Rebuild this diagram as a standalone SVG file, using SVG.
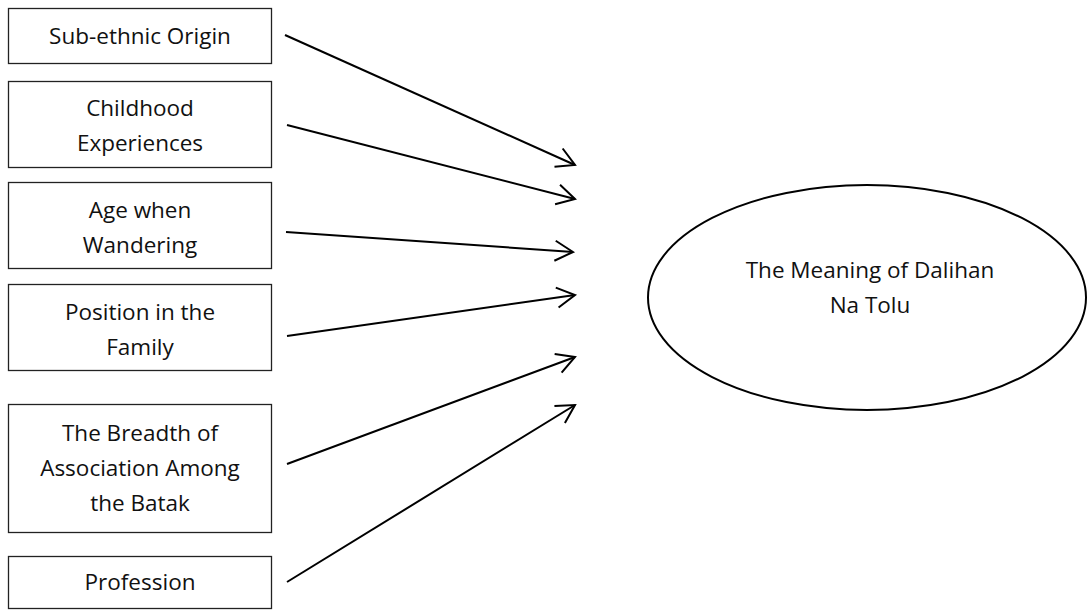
<svg xmlns="http://www.w3.org/2000/svg" width="1087" height="611" viewBox="0 0 1087 611">
<style>
.box{fill:#fff;stroke:#222;stroke-width:1.3}
.t{font-family:"Open Sans","Noto Sans",sans-serif;font-size:22.5px;fill:#111;text-anchor:middle}
.edge{stroke:#000;stroke-width:2;fill:none;marker-end:url(#arr)}
</style>
<defs>
<marker id="arr" markerUnits="userSpaceOnUse" viewBox="-22 -12 24 24" markerWidth="24" markerHeight="24" refX="0" refY="0" orient="auto">
<path d="M-18,-10 L0,0 L-18,10" fill="none" stroke="#000" stroke-width="2"/>
</marker>
</defs>
<rect width="1087" height="611" fill="#fff"/>
<g id="n1"><rect class="box" x="8.5" y="8.5" width="263" height="55"/><text class="t" x="140" y="44">Sub-ethnic Origin</text></g>
<g id="n2"><rect class="box" x="8.5" y="81.5" width="263" height="86"/><text class="t" x="140" y="116">Childhood</text><text class="t" x="140" y="151">Experiences</text></g>
<g id="n3"><rect class="box" x="8.5" y="182.5" width="263" height="86"/><text class="t" x="140" y="218">Age when</text><text class="t" x="140" y="253">Wandering</text></g>
<g id="n4"><rect class="box" x="8.5" y="284.5" width="263" height="86"/><text class="t" x="140" y="320">Position in the</text><text class="t" x="140" y="355">Family</text></g>
<g id="n5"><rect class="box" x="8.5" y="404.5" width="263" height="128"/><text class="t" x="140" y="441">The Breadth of</text><text class="t" x="140" y="476">Association Among</text><text class="t" x="140" y="511">the Batak</text></g>
<g id="n6"><rect class="box" x="8.5" y="556.5" width="263" height="52"/><text class="t" x="140" y="590">Profession</text></g>
<g id="target"><ellipse cx="867" cy="297.5" rx="219" ry="112.5" fill="#fff" stroke="#000" stroke-width="2"/><text class="t" x="870" y="278">The Meaning of Dalihan</text><text class="t" x="870" y="313">Na Tolu</text></g>
<g id="connectors">
<line class="edge" x1="285" y1="35" x2="575" y2="165"/>
<line class="edge" x1="287" y1="125" x2="575" y2="199"/>
<line class="edge" x1="286" y1="232" x2="573" y2="252"/>
<line class="edge" x1="287" y1="336" x2="575" y2="295"/>
<line class="edge" x1="287" y1="464" x2="575" y2="357"/>
<line class="edge" x1="287" y1="582" x2="575" y2="405"/>
</g>
</svg>
